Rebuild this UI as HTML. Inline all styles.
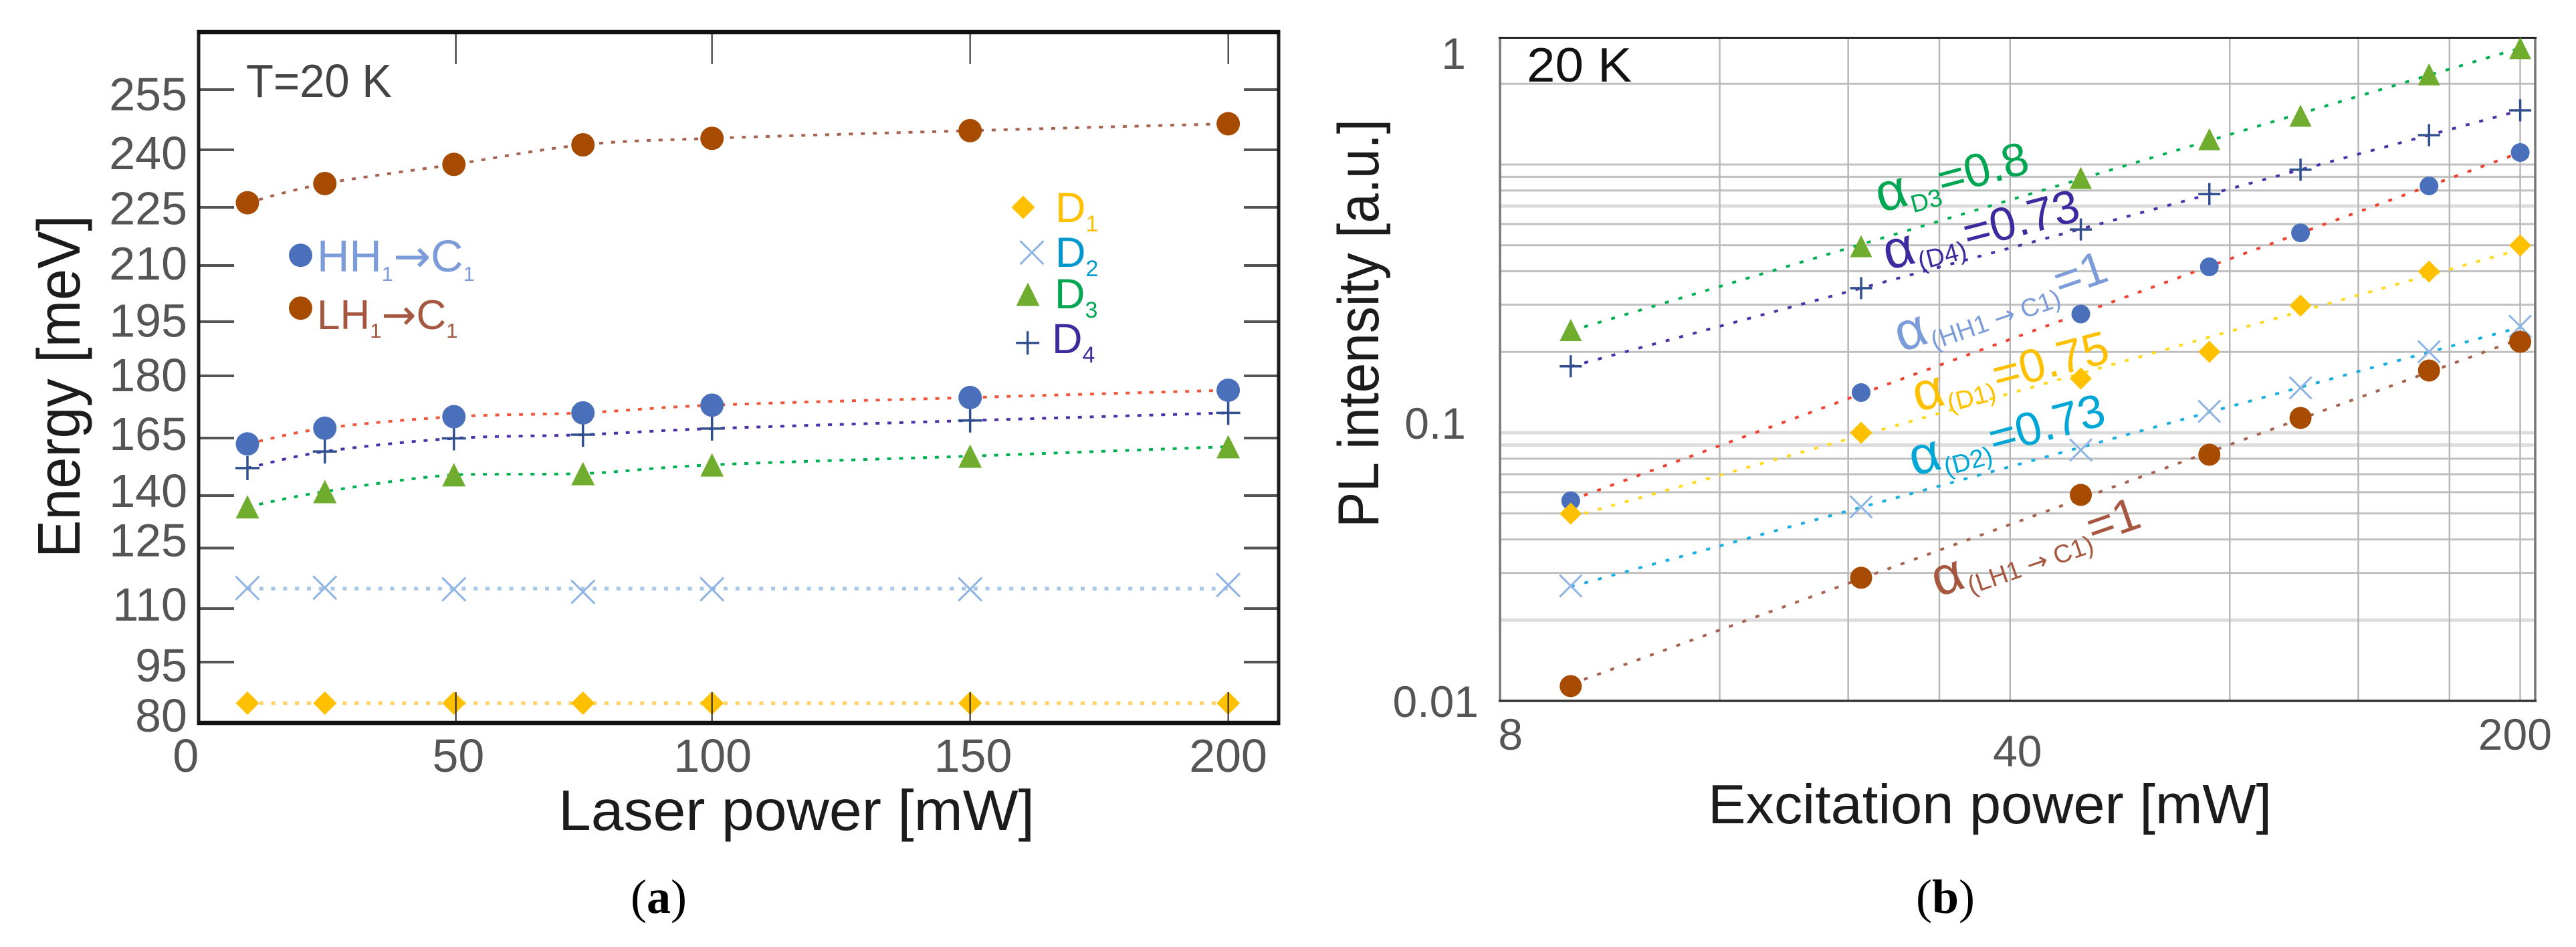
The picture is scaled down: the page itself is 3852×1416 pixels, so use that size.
<!DOCTYPE html>
<html lang="en">
<head>
<meta charset="utf-8">
<title>Energy and PL intensity versus power at 20 K</title>
<style>
html,body{margin:0;padding:0;background:#fff;}
svg{display:block;}
text{font-family:"Liberation Sans",sans-serif;}
.cap{font-family:"Liberation Serif",serif;font-size:72px;fill:#000;}
.arw{font-family:"DejaVu Sans",sans-serif;}
</style>
</head>
<body>
<svg id="figure" xmlns="http://www.w3.org/2000/svg" width="3852" height="1416" viewBox="0 0 3852 1416">
  <rect x="0" y="0" width="3852" height="1416" fill="#ffffff"/>

  <g id="panelA">
    <g id="aLines"></g>
    <g id="aMarks"></g>
    <g id="aAxes"></g>
    <text x="368" y="145" font-size="70" fill="#444" textLength="218" lengthAdjust="spacingAndGlyphs">T=20 K</text>
    <text transform="translate(119,834) rotate(-90)" font-size="90" fill="#1c1c1c" textLength="512" lengthAdjust="spacingAndGlyphs">Energy [meV]</text>
    <text x="835" y="1241" font-size="85" fill="#1c1c1c" textLength="712" lengthAdjust="spacingAndGlyphs">Laser power [mW]</text>
    <g id="aLegend">
      <text x="474" y="406" font-size="67" fill="#7b9bd9">HH<tspan font-size="31" dy="14">1</tspan><tspan class="arw" dy="-14">→</tspan><tspan>C</tspan><tspan font-size="31" dy="14">1</tspan></text>
      <text x="474" y="492" font-size="62" fill="#a5573f">LH<tspan font-size="31" dy="13">1</tspan><tspan class="arw" dy="-13">→</tspan><tspan>C</tspan><tspan font-size="31" dy="13">1</tspan></text>
      <text x="1578" y="332" font-size="63" fill="#ffc000">D<tspan font-size="34" dy="14">1</tspan></text>
      <text x="1578" y="399" font-size="63" fill="#0097cf">D<tspan font-size="34" dy="14">2</tspan></text>
      <text x="1577" y="461" font-size="63" fill="#00a651">D<tspan font-size="34" dy="14">3</tspan></text>
      <text x="1573" y="528" font-size="63" fill="#3b2b9e">D<tspan font-size="34" dy="14">4</tspan></text>
    </g>
    <text class="cap" x="985" y="1365" text-anchor="middle">(<tspan font-weight="bold">a</tspan>)</text>
  </g>

  <g id="panelB">
    <g id="bGrid"></g>
    <g id="bFrame"></g>
    <g id="bLines"></g>
    <text x="2283" y="122" font-size="72" fill="#111" textLength="157" lengthAdjust="spacingAndGlyphs">20 K</text>
    <text transform="translate(2061,789) rotate(-90)" font-size="86" fill="#1c1c1c" textLength="611" lengthAdjust="spacingAndGlyphs">PL intensity [a.u.]</text>
    <text x="2554" y="1231" font-size="83" fill="#1c1c1c" textLength="843" lengthAdjust="spacingAndGlyphs">Excitation power [mW]</text>

    <text transform="translate(2812,318) rotate(-15)" font-size="70" fill="#00a651"><tspan font-size="80">α</tspan><tspan font-size="37" dx="1" dy="13">D3</tspan><tspan dx="1" dy="-13">=0.8</tspan></text>
    <text transform="translate(2823,404) rotate(-14.5)" font-size="70" fill="#3b2b9e"><tspan font-size="80">α</tspan><tspan font-size="38" dx="1" dy="12">(D4)</tspan><tspan dx="2" dy="-12">=0.73</tspan></text>
    <text transform="translate(2843,527) rotate(-19)" font-size="70" fill="#7b9bd9"><tspan font-size="80">α</tspan><tspan font-size="38" dx="2" dy="12">(HH1 <tspan class="arw">→</tspan> C1)</tspan><tspan dy="-12">=1</tspan></text>
    <text transform="translate(2867,616) rotate(-14.5)" font-size="70" fill="#ffc000"><tspan font-size="80">α</tspan><tspan font-size="38" dx="1" dy="12">(D1)</tspan><tspan dx="2" dy="-12">=0.75</tspan></text>
    <text transform="translate(2862,712) rotate(-15)" font-size="70" fill="#00a6d6"><tspan font-size="80">α</tspan><tspan font-size="38" dx="1" dy="12">(D2)</tspan><tspan dx="2" dy="-12">=0.73</tspan></text>
    <text transform="translate(2898,893) rotate(-19)" font-size="70" fill="#a5573f"><tspan font-size="80">α</tspan><tspan font-size="38" dx="2" dy="12">(LH1 <tspan class="arw">→</tspan> C1)</tspan><tspan dy="-12">=1</tspan></text>

    <g id="bMarks"></g>
    <text class="cap" x="2909" y="1365" text-anchor="middle">(<tspan font-weight="bold">b</tspan>)</text>
  </g>
</svg>

<script>
// ---------- Panel (a) data ----------
const laserPower = [10, 25, 50, 75, 100, 150, 200];
const energyLH = [225.5, 230.5, 235.5, 240.6, 242.3, 244.3, 246.1];
const energyHH = [161, 166.7, 169.7, 170.7, 172.7, 174.7, 176.6];
const energyD4 = [150.5, 157.7, 163.4, 165, 166.6, 168.7, 170.7];
const energyD3 = [136.2, 140.3, 147.6, 148.1, 151.9, 155.7, 159.8];
const energyD2 = [115, 115.1, 114.7, 114, 114.7, 114.7, 115.8];
const energyD1 = [85, 85, 85, 85, 85, 85, 85];
const energyTicks = [255, 240, 225, 210, 195, 180, 165, 140, 125, 110, 95, 80];
const laserTicks = [50, 100, 150, 200];
const laserLabels = [0, 50, 100, 150, 200];

// ---------- Panel (b) data ----------
const excitationPower = [10, 25, 50, 75, 100, 150, 200];
const intensityD3 = [0.178, 0.300, 0.459, 0.584, 0.676, 0.875, 1.03];
const intensityD4 = [0.142, 0.231, 0.333, 0.415, 0.483, 0.599, 0.699];
const intensityHH = [0.0524, 0.1206, 0.1967, 0.2638, 0.326, 0.4367, 0.5377];
const intensityD1 = [0.0471, 0.092, 0.1316, 0.1555, 0.2072, 0.2563, 0.3014];
const intensityD2 = [0.0259, 0.0498, 0.0797, 0.1073, 0.1242, 0.1555, 0.1822];
const intensityLH = [0.0113, 0.0277, 0.055, 0.0767, 0.103, 0.1384, 0.1655];
const intensityTicks = [0.01, 0.1, 1];
const excitationTicks = [8, 40, 200];
const excitationGrid = [16, 24, 32, 40, 80, 120, 160, 200];
const intensityGrid = [0.02, 0.03, 0.04, 0.05, 0.06, 0.07, 0.08, 0.09, 0.1, 0.2, 0.3, 0.4, 0.5, 0.6, 0.7, 0.8, 0.9, 1, 2];
const softGridLines = [0.02, 0.09, 0.1, 0.7];

// ---------- Hand-placed label/tick layout offsets (reference is not perfectly regular) ----------
const energyTickShift = [0, 4, 4, 5, 3, -2, 5, 5, -2.5, 2, -4, 2];
const energyLabelShift = [6, 8, 4.6, 1, 0.6, -4, -2, -3, -15, -5, 0, -11];
const laserLabelShift = [-15, 6.7, 1, 4.4, 0];
const excitationLabelShift = [15.7, 11, -7.7];
const excitationLabelDrop = [0, 25, 0];
const intensityLabelRight = [2211, 2192, 2192];

// ---------- Helpers ----------
const NS = 'http://www.w3.org/2000/svg';
function make(tag, parent, props) {
  const el = document.createElementNS(NS, tag);
  for (const k in props) el.setAttribute(k, props[k]);
  parent.appendChild(el);
  return el;
}

// ---------- Scales ----------
function aX(v) { return 292.8 + 7.719 * v; }
function aIndex(v) {
  const t = energyTicks;
  for (let i = 0; i < t.length - 1; i++) {
    if (v <= t[i] && v >= t[i + 1]) return i + (t[i] - v) / (t[i] - t[i + 1]);
  }
  return v > t[0] ? (t[0] - v) / 15 : t.length - 1 + (t[t.length - 1] - v) / 15;
}
function aY(v) { return 134 + 86 * aIndex(v); }

function bX(p) { return 2243 + 1091.3 * Math.log10(p / 8); }
function bY(v) {
  const l = Math.log10(v);
  if (l >= -1) return 79 + 553 * (-l);
  return 632 + 416 * (-1 - l);
}
function bGridY(k) { return 1048 - 401 * Math.log10(k / 0.01); }

// ---------- Markers ----------
function marker(parent, kind, x, y, color, size) {
  const s = size / 2;
  let el;
  if (kind === 'circle') {
    el = make('circle', parent, { cx: x, cy: y, r: s, fill: color });
  } else if (kind === 'diamond') {
    el = make('polygon', parent, { points: (x) + ',' + (y - s) + ' ' + (x + s) + ',' + y + ' ' + x + ',' + (y + s) + ' ' + (x - s) + ',' + y, fill: color });
  } else if (kind === 'triangle') {
    el = make('polygon', parent, { points: x + ',' + (y - s) + ' ' + (x + s) + ',' + (y + s) + ' ' + (x - s) + ',' + (y + s), fill: color });
  } else if (kind === 'cross') {
    el = make('path', parent, { d: 'M' + (x - s) + ' ' + (y - s) + 'L' + (x + s) + ' ' + (y + s) + 'M' + (x + s) + ' ' + (y - s) + 'L' + (x - s) + ' ' + (y + s), stroke: color, 'stroke-width': 3, fill: 'none' });
  } else {
    el = make('path', parent, { d: 'M' + (x - s) + ' ' + y + 'L' + (x + s) + ' ' + y + 'M' + x + ' ' + (y - s) + 'L' + x + ' ' + (y + s), stroke: color, 'stroke-width': 3.5, fill: 'none' });
  }
  return el;
}

function dotted(parent, d, color, width, dash) {
  const el = make('path', parent, { d: d, stroke: color, fill: 'none', 'stroke-width': width, 'stroke-dasharray': dash });
  return el;
}

// Smooth curve through the points, control points clamped so it never dips between marks
function curvePath(pts) {
  function clamp(v, a, b) { return Math.max(Math.min(a, b), Math.min(Math.max(a, b), v)); }
  let d = 'M' + pts[0][0] + ' ' + pts[0][1];
  for (let i = 0; i < pts.length - 1; i++) {
    const p0 = pts[Math.max(i - 1, 0)], p1 = pts[i], p2 = pts[i + 1], p3 = pts[Math.min(i + 2, pts.length - 1)];
    const c1x = p1[0] + (p2[0] - p0[0]) / 6, c1y = clamp(p1[1] + (p2[1] - p0[1]) / 6, p1[1], p2[1]);
    const c2x = p2[0] - (p3[0] - p1[0]) / 6, c2y = clamp(p2[1] - (p3[1] - p1[1]) / 6, p1[1], p2[1]);
    d += 'C' + c1x + ' ' + c1y + ' ' + c2x + ' ' + c2y + ' ' + p2[0] + ' ' + p2[1];
  }
  return d;
}
// Flat line at the mean of the points
function flatPath(pts) {
  const m = pts.reduce(function (a, p) { return a + p[1]; }, 0) / pts.length;
  return 'M' + pts[0][0] + ' ' + m + 'L' + pts[pts.length - 1][0] + ' ' + m;
}
// Least-squares straight line through the points (pixel space)
function fitPath(pts) {
  const n = pts.length;
  let sx = 0, sy = 0, sxx = 0, sxy = 0;
  pts.forEach(function (p) { sx += p[0]; sy += p[1]; sxx += p[0] * p[0]; sxy += p[0] * p[1]; });
  const b = (n * sxy - sx * sy) / (n * sxx - sx * sx);
  const a = (sy - b * sx) / n;
  const x0 = pts[0][0], x1 = pts[n - 1][0];
  return 'M' + x0 + ' ' + (a + b * x0) + 'L' + x1 + ' ' + (a + b * x1);
}

// ---------- Panel (a) drawing ----------
const aLines = document.getElementById('aLines');
const aMarks = document.getElementById('aMarks');
const aAxes = document.getElementById('aAxes');
const aLegend = document.getElementById('aLegend');

function drawEnergy(id, values, kind, markColor, lineColor, shape) {
  const pts = values.map(function (v, i) { return [aX(laserPower[i]), aY(v)]; });
  const line = shape === 'flat'
    ? dotted(aLines, flatPath(pts), lineColor, 5.5, '6 11.8')
    : dotted(aLines, curvePath(pts), lineColor, 4, '6 11.8');
  
  
  pts.forEach(function (p, i) {
    const m = marker(aMarks, kind, p[0], p[1], markColor, kind === 'plus' ? 36 : 35);
    
    
  });
}
drawEnergy('d1', energyD1, 'diamond', '#ffc000', '#ffd36a', 'flat');
drawEnergy('d2', energyD2, 'cross', '#8fb4e3', '#a9c8ea', 'flat');
drawEnergy('d3', energyD3, 'triangle', '#70ad2f', '#00b050', 'curve');
drawEnergy('d4', energyD4, 'plus', '#2f4f8f', '#4b30a8', 'curve');
drawEnergy('hh', energyHH, 'circle', '#4a70bb', '#f0563a', 'curve');
drawEnergy('lh', energyLH, 'circle', '#a64b00', '#a5624e', 'curve');

energyTicks.forEach(function (t, i) {
  const y = aY(t) + energyTickShift[i];
  const left = make('line', aAxes, { x1: 298, x2: 350, y1: y, y2: y, stroke: '#555', 'stroke-width': 4 });
  
  
  const right = make('line', aAxes, { x1: 1860, x2: 1912, y1: y, y2: y, stroke: '#555', 'stroke-width': 4 });
  
  
  const label = make('text', aAxes, { x: 280, y: aY(t) + energyLabelShift[i] + 25, 'text-anchor': 'end', 'font-size': 70, fill: '#555' });
  label.textContent = t;
  
  
});
laserTicks.forEach(function (t) {
  const x = aX(t) + (t === 50 ? 3 : 0);
  const top = make('line', aAxes, { x1: x, x2: x, y1: 48, y2: 96, stroke: '#222', 'stroke-width': 2 });
  
  
  const bottom = make('line', aAxes, { x1: x, x2: x, y1: 1035, y2: 1080, stroke: '#222', 'stroke-width': 2 });
  
  
});
laserLabels.forEach(function (t, i) {
  const label = make('text', aAxes, { x: aX(t) + laserLabelShift[i], y: 1154, 'text-anchor': 'middle', 'font-size': 70, fill: '#555' });
  label.textContent = t;
  
  
});
const aFrameV = make('path', aAxes, { d: 'M297 45V1084M1912 45V1084', stroke: '#1c1c1c', 'stroke-width': 5, fill: 'none' });


const aFrameH = make('path', aAxes, { d: 'M295 48H1914M295 1081H1914', stroke: '#111', 'stroke-width': 6.5, fill: 'none' });



const legendMarkA = [
  ['hh', 'circle', 449.5, 381.7, '#4a70bb'],
  ['lh', 'circle', 449.5, 460.7, '#a64b00'],
  ['d1', 'diamond', 1530, 310, '#ffc000'],
  ['d2', 'cross', 1543, 377.7, '#8fb4e3'],
  ['d3', 'triangle', 1537, 440, '#70ad2f'],
  ['d4', 'plus', 1536.7, 512.7, '#2f4f8f']
];
legendMarkA.forEach(function (l) {
  const m = marker(aLegend, l[1], l[2], l[3], l[4], 35);
  
  
});

// ---------- Panel (b) drawing ----------
const bGrid = document.getElementById('bGrid');
const bFrame = document.getElementById('bFrame');
const bLines = document.getElementById('bLines');
const bMarks = document.getElementById('bMarks');

intensityGrid.forEach(function (k) {
  const y = bGridY(k);
  const soft = softGridLines.indexOf(k) >= 0;
  const g = make('line', bGrid, { x1: 2243, x2: 3791, y1: y, y2: y, stroke: soft ? '#dcdcdc' : '#c0c0c0', 'stroke-width': soft ? 5 : 3 });
  
  
});
excitationGrid.forEach(function (p) {
  const x = bX(p);
  const g = make('line', bGrid, { x1: x, x2: x, y1: 56, y2: 1048, stroke: '#b8b8b8', 'stroke-width': 2.5 });
  
  
});

const bFrameSides = make('path', bFrame, { d: 'M2243 56V1048M3791 56V1048', stroke: '#777', 'stroke-width': 3.5, fill: 'none' });


const bFrameTop = make('path', bFrame, { d: 'M2241 56.5H3793', stroke: '#222', 'stroke-width': 3, fill: 'none' });


const bFrameBottom = make('path', bFrame, { d: 'M2241 1048H3793', stroke: '#333', 'stroke-width': 3.5, fill: 'none' });



intensityTicks.forEach(function (t, i) {
  const label = make('text', bFrame, { x: intensityLabelRight[i], y: bY(t) + 24, 'text-anchor': 'end', 'font-size': 66, fill: '#555' });
  label.textContent = t;
  
  
});
excitationTicks.forEach(function (t, i) {
  const label = make('text', bFrame, { x: bX(t) + excitationLabelShift[i], y: 1121 + excitationLabelDrop[i], 'text-anchor': 'middle', 'font-size': 66, fill: '#555' });
  label.textContent = t;
  
  
});

function drawIntensity(id, values, kind, markColor, lineColor, size) {
  const pts = values.map(function (v, i) { return [bX(excitationPower[i]), bY(v)]; });
  const line = dotted(bLines, fitPath(pts), lineColor, 4, '6 15');
  
  
  pts.forEach(function (p, i) {
    const m = marker(bMarks, kind, p[0], p[1], markColor, size);
    
    
  });
}
drawIntensity('d3', intensityD3, 'triangle', '#70ad2f', '#00b050', 33);
drawIntensity('d4', intensityD4, 'plus', '#2f4f8f', '#4b30a8', 33);
drawIntensity('hh', intensityHH, 'circle', '#4a70bb', '#f04030', 28);
drawIntensity('d1', intensityD1, 'diamond', '#ffc000', '#ffd91e', 33);
drawIntensity('d2', intensityD2, 'cross', '#8fb4e3', '#18aee0', 33);
drawIntensity('lh', intensityLH, 'circle', '#a64b00', '#a5624e', 33);
</script>
</body>
</html>
